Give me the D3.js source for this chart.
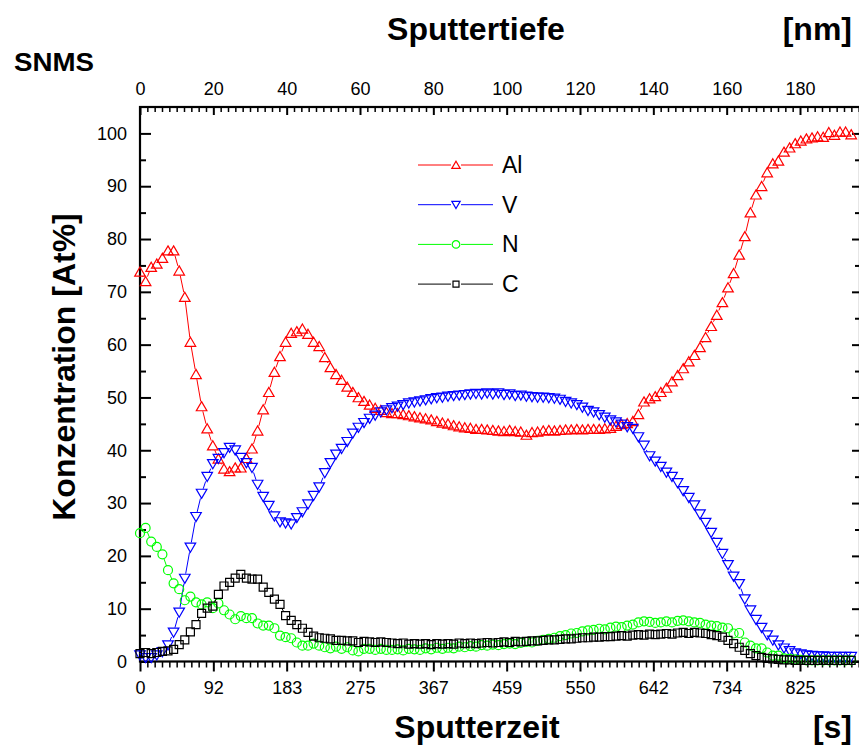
<!DOCTYPE html>
<html>
<head>
<meta charset="utf-8">
<script src="https://cdn.jsdelivr.net/npm/d3@7"></script>
<style>
  body { margin: 0; background: #fff; }
  text { font-family: "Liberation Sans", Arial, sans-serif; fill: #000; }
</style>
</head>
<body>
<svg id="chart" width="859" height="746"></svg>
<script>
// SNMS depth profile: concentration (At%) vs. sputter time, sampled every 7 s
const sputterTime = d3.range(0, 890, 7);

const aluminium = [73.8,72,74.7,75.3,76.4,77.8,77.8,74,69,60.5,
  54.4,48.3,44.1,40.9,38.4,36.5,36,36.7,36.7,38.5,
  40.3,43.7,47.7,51,54.8,57.8,60.5,62.2,62.5,63,
  62,60.5,59.7,57.6,55.7,54.4,53.3,52,51,50,
  49.3,48.6,48,47.6,47.2,47,47,46.8,46.6,46.4,
  46.2,46,45.8,45.5,45.2,45,44.7,44.5,44.3,44.2,
  44,44,43.9,43.8,43.7,43.6,43.8,43.6,43.5,42.9,
  43.4,43.5,43.7,43.8,43.7,43.8,43.9,43.9,44,43.9,
  44,44,44,44.1,44.2,44.6,44.9,45.1,45.5,46.8,
  49.2,49.8,50.2,51,51.8,53,54.2,55.5,56.8,58,
  59.5,61.4,63.5,65.6,68,70.8,73.5,77,80.5,85,
  88.4,90,92.6,94.3,94.8,96.5,97.3,98.1,98.6,99,
  99.2,99.4,99.3,100.2,99.7,100.3,100.3,99.8];

const vanadium = [1.2,0.7,0.7,1.2,1.8,3.1,5.5,9.3,15.7,21.6,
  27.4,31.8,35,37.4,38.4,39.5,40.5,40,38.6,37.6,
  36.7,33.5,31.2,29.5,27.5,26.4,26.2,26,27.2,28.3,
  29.8,31.4,33,35.7,37.6,39.2,40.3,41.6,43.2,44.3,
  45.2,46,46.6,47.2,47.6,48,48.3,48.6,48.9,49.1,
  49.3,49.5,49.7,49.9,50,50.2,50.3,50.4,50.5,50.6,
  50.7,50.6,50.8,50.6,50.8,50.5,50.6,50.3,50.4,50.2,
  50.1,50,50,49.9,49.8,49.6,49.2,48.9,48.6,48.1,
  47.5,47.2,46.7,46.2,45.7,45.3,44.9,44.4,44.1,42.5,
  40.9,38.9,37.9,36.9,35.8,35,33.8,32.3,31,29.6,
  27.9,26.3,24.4,22.5,20.4,18.3,16.1,14.7,11.8,9.7,
  7.9,6.4,5,4,3.1,2.5,2,1.6,1.4,1.2,
  1.1,1,1,0.9,0.9,0.9,0.9,0.9];

const nitrogen = [24.3,25.3,22.7,21.7,20.3,17.3,14.8,13.7,11.6,12.3,
  11.2,10.8,11.2,10.1,11,9.7,8.9,8,8.6,8.2,
  8.2,7.2,6.8,6.8,6.3,4.9,4.6,4.4,3.6,3,
  3,3.4,3,2.7,2.5,2.8,2.4,2.7,2.1,1.9,
  2.4,2.4,2.2,2.4,2.2,2.2,2.3,2.1,2.4,2.3,
  2.2,2.5,2.3,2.6,2.4,2.6,2.5,2.8,2.7,2.9,
  2.8,3.1,3,3.2,3.1,3.3,3.4,3.3,3.5,3.7,
  3.6,3.9,4.1,4.3,4.5,4.8,5,5.3,5.4,5.7,
  5.9,6,6.2,6.1,6.4,6.6,6.5,6.8,7,7.4,
  7.6,7.5,7.3,7.4,7.6,7.4,7.7,7.8,7.6,7.4,
  7.3,7,6.8,6.7,6.4,6.3,5.3,5.4,3.6,3,
  2.5,2.5,1.7,1.1,1.1,0.6,0.5,0.4,0.3,0.2,
  0.2,0.2,0.2,0.2,0.2,0.2,0.2,0.2];

const carbon = [1.5,1.7,1.5,1.7,1.9,2,2.3,3.2,4.1,5.6,
  7,9.1,10.1,10.5,12.7,14.3,15,15.8,16.5,15.8,
  15.6,15.6,14.1,13.1,11.8,10.8,8.7,7.8,7,6.3,
  5.5,4.8,4.5,4.4,4.3,4,4,3.9,3.9,3.6,
  3.8,3.7,3.6,3.7,3.6,3.5,3.4,3.5,3.3,3.4,
  3.3,3.4,3.2,3.4,3.3,3.4,3.3,3.5,3.4,3.5,
  3.4,3.5,3.6,3.5,3.6,3.7,3.6,3.8,3.7,3.8,
  3.9,3.9,4,4.1,4.1,4.2,4.3,4.3,4.4,4.5,
  4.5,4.6,4.6,4.7,4.7,4.8,4.9,4.8,5,5.1,
  5,5.2,5.1,5.2,5.3,5.2,5.4,5.5,5.3,5.5,
  5.4,5.3,5.1,4.9,4.6,4,3.4,2.7,2.1,1.5,
  1.1,0.8,0.6,0.5,0.4,0.3,0.3,0.2,0.2,0.2,
  0.2,0.2,0.2,0.2,0.2,0.2,0.2,0.2];

const seriesNames = ["Al", "V", "N", "C"];
const seriesColors = ["#ff0000", "#0000ff", "#00ff00", "#000000"];

// Axis ticks: depth (top, nm) and the matching sputter times (bottom, s)
const depthTicks = [0, 20, 40, 60, 80, 100, 120, 140, 160, 180];
const timeTickLabels = ["0", "92", "183", "275", "367", "459", "550", "642", "734", "825"];
const concTicks = [0, 10, 20, 30, 40, 50, 60, 70, 80, 90, 100];
const nmPerSecond = 20 / 91.6667;

const svg = d3.select("#chart");
const frameLeft = 140, frameRight = 860, frameTop = 107, frameBottom = 661.5;

const x = d3.scaleLinear().domain([0, 900]).range([frameLeft, frameRight]);
const depth = d3.scaleLinear().domain([0, 900 * nmPerSecond]).range([frameLeft, frameRight]);
const y = d3.scaleLinear().domain([0, 105]).range([frameBottom, frameTop]);

const fontTick = 18;

function styleAxis(g) {
  g.select(".domain").remove();
  g.selectAll(".tick line").attr("stroke", "#000").attr("stroke-width", 2);
  g.selectAll(".tick text").attr("font-size", fontTick)
    .attr("font-family", '"Liberation Sans", Arial, sans-serif').attr("fill", "#000");
}

const minorDepth = d3.range(0, 197, 2).filter(d => d % 20 !== 0);
const minorConc = d3.range(5, 105, 10);

// top axis (depth), ticks pointing inward
svg.append("g").attr("transform", `translate(0,${frameTop})`)
  .call(d3.axisTop(depth).tickValues(minorDepth).tickSize(-5).tickFormat(""))
  .call(styleAxis).selectAll(".tick line").attr("stroke-width", 1.5);
svg.append("g").attr("transform", `translate(0,${frameTop})`)
  .call(d3.axisTop(depth).tickValues(depthTicks).tickSize(-8).tickPadding(12))
  .call(styleAxis);

// bottom axis (time), ticks pointing outward
const timeMajor = depthTicks.map(d => d / nmPerSecond);
svg.append("g").attr("transform", `translate(0,${frameBottom})`)
  .call(d3.axisBottom(x).tickValues(minorDepth.map(d => d / nmPerSecond)).tickSize(6).tickFormat(""))
  .call(styleAxis).selectAll(".tick line").attr("stroke-width", 1.5);
svg.append("g").attr("transform", `translate(0,${frameBottom})`)
  .call(d3.axisBottom(x).tickValues(timeMajor).tickSize(10).tickPadding(10)
    .tickFormat((d, i) => timeTickLabels[i]))
  .call(styleAxis);

// left axis, ticks pointing inward
svg.append("g").attr("transform", `translate(${frameLeft},0)`)
  .call(d3.axisLeft(y).tickValues(minorConc).tickSize(-6).tickFormat(""))
  .call(styleAxis);
svg.append("g").attr("transform", `translate(${frameLeft},0)`)
  .call(d3.axisLeft(y).tickValues(concTicks).tickSize(-11).tickPadding(13))
  .call(styleAxis);

// right axis, ticks only
svg.append("g").attr("transform", `translate(${frameRight},0)`)
  .call(d3.axisRight(y).tickValues(minorConc).tickSize(-5).tickFormat(""))
  .call(styleAxis);
svg.append("g").attr("transform", `translate(${frameRight},0)`)
  .call(d3.axisRight(y).tickValues(concTicks).tickSize(-8).tickFormat(""))
  .call(styleAxis);

// frame
svg.append("rect").attr("x", frameLeft).attr("y", frameTop)
  .attr("width", frameRight - frameLeft).attr("height", frameBottom - frameTop)
  .attr("fill", "none").attr("stroke", "#000").attr("stroke-width", 2.2);

// marker shapes
function markerPath(kind, s) {
  if (kind === "up") return `M0,${-s}L${s * 1.1},${s * 0.9}L${-s * 1.1},${s * 0.9}Z`;
  if (kind === "down") return `M0,${s}L${s * 1.1},${-s * 0.9}L${-s * 1.1},${-s * 0.9}Z`;
  if (kind === "square") return `M${-s},${-s}H${s}V${s}H${-s}Z`;
  return d3.symbol(d3.symbolCircle, Math.PI * s * s)();
}

const series = [
  { name: seriesNames[0], color: seriesColors[0], values: aluminium, kind: "up", size: 4.8, gap: 5 },
  { name: seriesNames[1], color: seriesColors[1], values: vanadium, kind: "down", size: 4.8, gap: 5 },
  { name: seriesNames[2], color: seriesColors[2], values: nitrogen, kind: "circle", size: 4.5, gap: 4.5 },
  { name: seriesNames[3], color: seriesColors[3], values: carbon, kind: "square", size: 4, gap: 4.5 }
];

// connecting lines are broken around each symbol
function gappedSegments(pts, gap) {
  const segs = [];
  for (let i = 1; i < pts.length; i++) {
    const [x0, y0] = pts[i - 1], [x1, y1] = pts[i];
    const dx = x1 - x0, dy = y1 - y0, len = Math.hypot(dx, dy);
    if (len <= 2 * gap) continue;
    const ux = dx / len, uy = dy / len;
    segs.push([x0 + ux * gap, y0 + uy * gap, x1 - ux * gap, y1 - uy * gap]);
  }
  return segs;
}

const plot = svg.append("g");
series.forEach(s => {
  const pts = s.values.map((v, i) => [x(sputterTime[i]), y(v)]);
  const g = plot.append("g");
  g.selectAll("line").data(gappedSegments(pts, s.gap)).join("line")
    .attr("x1", d => d[0]).attr("y1", d => d[1]).attr("x2", d => d[2]).attr("y2", d => d[3])
    .attr("stroke", s.color).attr("stroke-width", 1);
  g.selectAll("path").data(pts).join("path")
    .attr("transform", d => `translate(${d[0]},${d[1]})`)
    .attr("d", markerPath(s.kind, s.size))
    .attr("fill", "none").attr("stroke", s.color).attr("stroke-width", 1.2);
});

// legend
const legend = svg.append("g");
series.forEach((s, i) => {
  const ly = 165 + i * 39.7;
  const row = legend.append("g").attr("transform", `translate(0,${ly})`);
  row.append("line").attr("x1", 418).attr("x2", 451).attr("y1", 0).attr("y2", 0)
    .attr("stroke", s.color).attr("stroke-width", 1);
  row.append("line").attr("x1", 461).attr("x2", 493).attr("y1", 0).attr("y2", 0)
    .attr("stroke", s.color).attr("stroke-width", 1);
  row.append("path").attr("transform", "translate(456,0)")
    .attr("d", markerPath(s.kind, s.kind === "square" ? 3 : 3.8))
    .attr("fill", "none").attr("stroke", s.color).attr("stroke-width", 1.2);
  row.append("text").attr("x", 502).attr("y", 8).attr("font-size", 23).text(s.name);
});

// titles
svg.append("text").attr("x", 476).attr("y", 40).attr("text-anchor", "middle")
  .attr("font-size", 32).attr("font-weight", "bold").text("Sputtertiefe");
svg.append("text").attr("x", 852).attr("y", 40).attr("text-anchor", "end")
  .attr("font-size", 32).attr("font-weight", "bold").text("[nm]");
svg.append("text").attr("x", 14).attr("y", 71)
  .attr("font-size", 26).attr("font-weight", "bold")
  .attr("textLength", 80).attr("lengthAdjust", "spacingAndGlyphs").text("SNMS");
svg.append("text").attr("x", 477).attr("y", 738).attr("text-anchor", "middle")
  .attr("font-size", 32).attr("font-weight", "bold").text("Sputterzeit");
svg.append("text").attr("x", 852).attr("y", 738).attr("text-anchor", "end")
  .attr("font-size", 32).attr("font-weight", "bold").text("[s]");
svg.append("text").attr("transform", "translate(75,367) rotate(-90)")
  .attr("text-anchor", "middle").attr("font-size", 32).attr("font-weight", "bold")
  .text("Konzentration [At%]");
</script>
</body>
</html>
